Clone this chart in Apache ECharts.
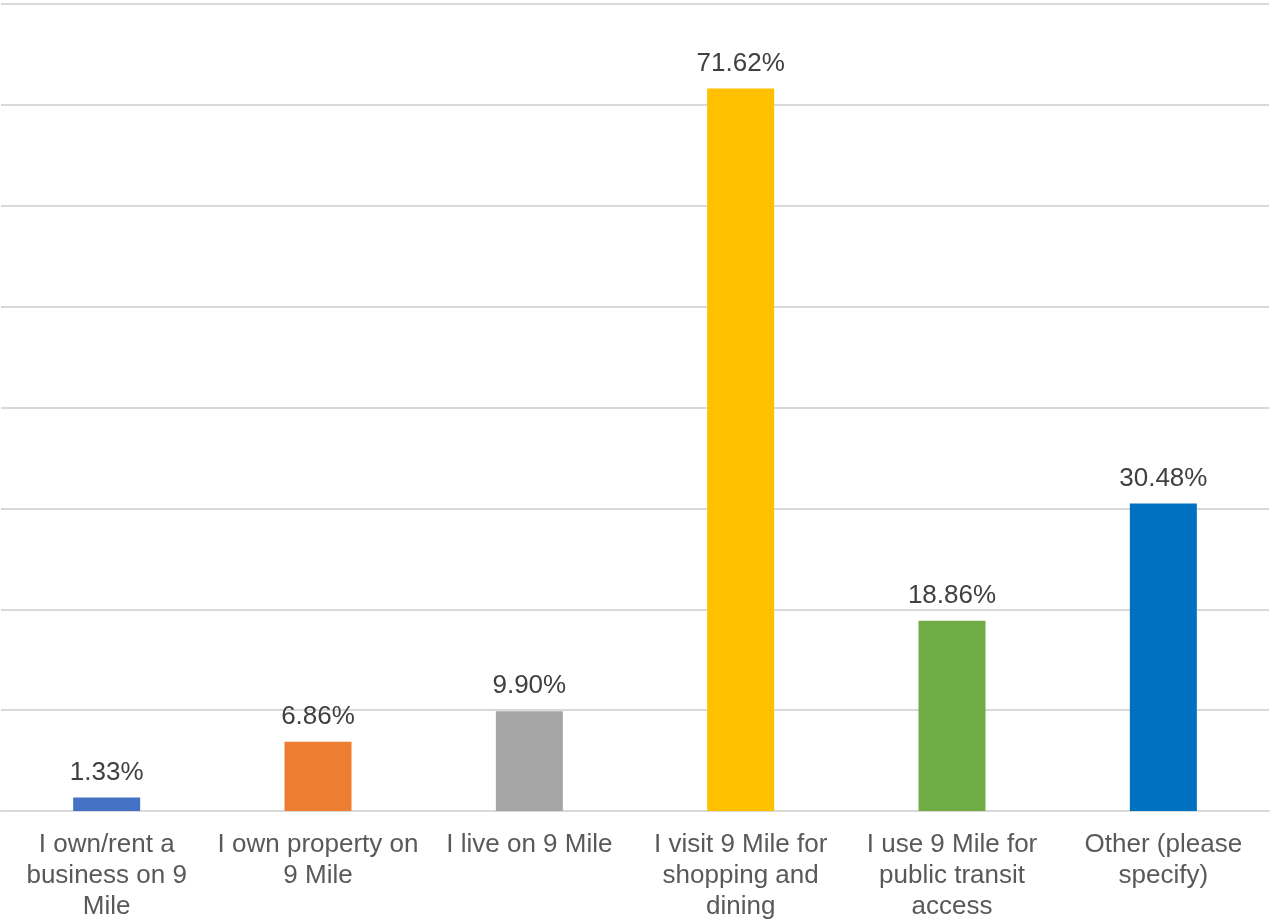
<!DOCTYPE html>
<html>
<head>
<meta charset="utf-8">
<script src="https://cdn.jsdelivr.net/npm/echarts@6/dist/echarts.min.js"></script>
<style>
  html, body { margin: 0; padding: 0; background: #fff; }
  #chart { width: 1274px; height: 922px; }
</style>
</head>
<body>
<div id="chart"></div>
<script>
// Survey responses: relationship to 9 Mile
const categories = [
  'I own/rent a\nbusiness on 9\nMile',
  'I own property on\n9 Mile',
  'I live on 9 Mile',
  'I visit 9 Mile for\nshopping and\ndining',
  'I use 9 Mile for\npublic transit\naccess',
  'Other (please\nspecify)'
];
const values = [1.33, 6.86, 9.90, 71.62, 18.86, 30.48];
const barColors = ['#4472C4', '#ED7D31', '#A5A5A5', '#FFC000', '#70AD47', '#0070C0'];

const chart = echarts.init(document.getElementById('chart'), null, { renderer: 'canvas' });
chart.setOption({
  animation: false,
  backgroundColor: '#ffffff',
  grid: { left: 1, right: 5, top: 4, bottom: 111, containLabel: false },
  xAxis: {
    type: 'category',
    data: categories,
    axisLine: { show: true, lineStyle: { color: '#d9d9d9', width: 2 } },
    axisTick: { show: false },
    axisLabel: {
      interval: 0,
      color: '#595959',
      fontFamily: 'Liberation Sans, Arial, sans-serif',
      fontSize: 26,
      lineHeight: 31,
      margin: 18
    }
  },
  yAxis: {
    type: 'value',
    min: 0,
    max: 80,
    interval: 10,
    axisLabel: { show: false },
    axisLine: { show: false },
    axisTick: { show: false },
    splitLine: { lineStyle: { color: '#d9d9d9', width: 2 } }
  },
  series: [{
    type: 'bar',
    barWidth: 67,
    data: values.map((v, i) => ({ value: v, itemStyle: { color: barColors[i] } })),
    label: {
      show: true,
      position: 'top',
      distance: 12,
      color: '#404040',
      fontFamily: 'Liberation Sans, Arial, sans-serif',
      fontSize: 26,
      formatter: p => p.value.toFixed(2) + '%'
    }
  }]
});
</script>
</body>
</html>
